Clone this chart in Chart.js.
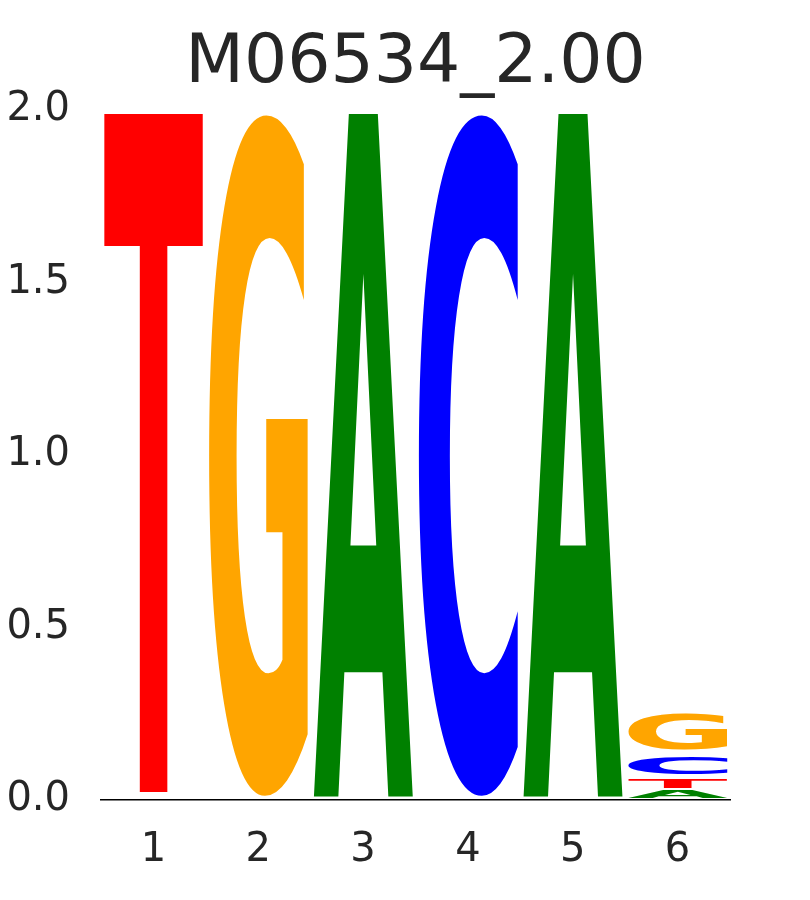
<!DOCTYPE html>
<html>
<head>
<meta charset="utf-8">
<script src="https://cdn.jsdelivr.net/npm/chart.js@4/dist/chart.umd.min.js"></script>
<style>
  html, body { margin: 0; padding: 0; background: #fff; }
  #wrap { width: 810px; height: 900px; }
</style>
</head>
<body>
<div id="wrap"><canvas id="logo" width="810" height="900"></canvas></div>
<script>
// Logo M06534 : hauteurs des lettres (bits) par position
const positions = ["1", "2", "3", "4", "5", "6"];
// ordre d'empilement bas -> haut : A, T, C, G
const valuesA = [0, 0, 2.0, 0, 2.0, 0.03];
const valuesT = [2.0, 0, 0, 0, 0, 0.035];
const valuesC = [0, 0, 0, 2.0, 0, 0.07];
const valuesG = [0, 2.0, 0, 0, 0, 0.124];
const yTicks = [0, 0.5, 1.0, 1.5, 2.0];

const letterColors = { A: "#008000", C: "#0000ff", G: "#ffa500", T: "#ff0000" };
const textColor = "#262626";

// dessine chaque lettre étirée dans le rectangle de sa barre
const glyphPlugin = {
  id: "glyphs",
  afterDatasetsDraw(chart) {
    const ctx = chart.ctx;
    const yScale = chart.scales.y;
    const unit = Math.abs(yScale.getPixelForValue(0) - yScale.getPixelForValue(1));
    chart.data.datasets.forEach((ds, i) => {
      const meta = chart.getDatasetMeta(i);
      meta.data.forEach((bar, j) => {
        const v = ds.data[j];
        if (!v) return;
        const left = bar.x - bar.width / 2;
        const top = Math.min(bar.y, bar.base);
        const h = Math.abs(bar.base - bar.y);
        const inset = Math.min(0.01, v * 0.15) * unit;
        ctx.save();
        ctx.font = "bold 200px 'DejaVu Sans'";
        const m = ctx.measureText(ds.label);
        const gw = m.actualBoundingBoxLeft + m.actualBoundingBoxRight;
        const gh = m.actualBoundingBoxAscent + m.actualBoundingBoxDescent;
        ctx.translate(left, top + inset);
        ctx.scale(bar.width / gw, (h - 2 * inset) / gh);
        ctx.fillStyle = letterColors[ds.label];
        ctx.textBaseline = "alphabetic";
        ctx.textAlign = "left";
        ctx.fillText(ds.label, m.actualBoundingBoxLeft, m.actualBoundingBoxAscent);
        ctx.restore();
      });
    });
  }
};

function makeSet(letter, values) {
  return {
    label: letter,
    data: values,
    backgroundColor: "rgba(0,0,0,0)",
    borderWidth: 0,
    barPercentage: 0.95,
    categoryPercentage: 1.0
  };
}

new Chart(document.getElementById("logo").getContext("2d"), {
  type: "bar",
  data: {
    labels: positions,
    datasets: [
      makeSet("A", valuesA),
      makeSet("T", valuesT),
      makeSet("C", valuesC),
      makeSet("G", valuesG)
    ]
  },
  options: {
    responsive: false,
    animation: false,
    layout: { padding: { left: 0, right: 80, top: 24, bottom: 0 } },
    plugins: {
      legend: { display: false },
      tooltip: { enabled: false },
      title: {
        display: true,
        fullSize: false,
        text: "M06534_2.00",
        color: textColor,
        font: { family: "'DejaVu Sans'", size: 68, weight: "normal" },
        padding: { top: 0, bottom: 4 }
      }
    },
    scales: {
      x: {
        stacked: true,
        grid: { display: false },
        border: { display: true, color: "#000000", width: 1.5 },
        ticks: { color: textColor, font: { family: "'DejaVu Sans'", size: 40 }, padding: 19 },
        afterFit(scale) { scale.height = 100; }
      },
      y: {
        stacked: true,
        min: 0,
        max: 2.0,
        afterBuildTicks(scale) { scale.ticks = yTicks.map(v => ({ value: v })); },
        afterFit(scale) { scale.width = 101; },
        grid: { display: false },
        border: { display: false },
        ticks: {
          color: textColor,
          font: { family: "'DejaVu Sans'", size: 40 },
          padding: 23,
          callback: v => v.toFixed(1)
        }
      }
    }
  },
  plugins: [glyphPlugin]
});
</script>
</body>
</html>
